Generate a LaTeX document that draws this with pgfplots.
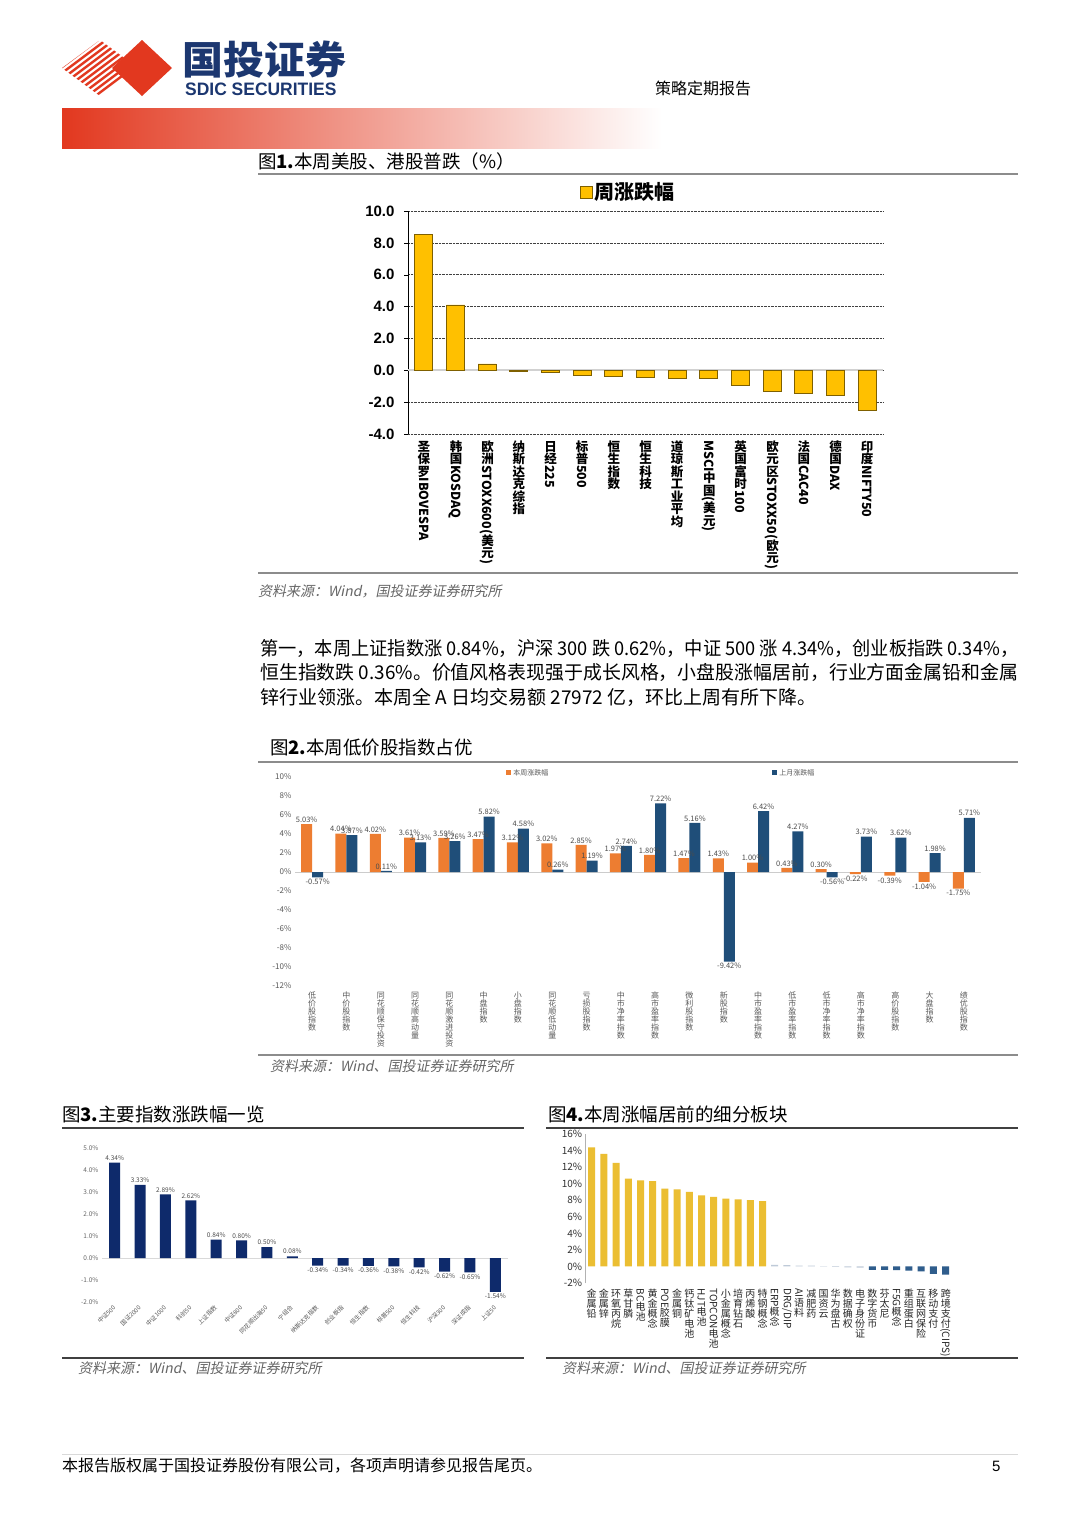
\documentclass[border=0pt]{standalone}
\usepackage{fontspec}
\setmainfont{Noto Sans CJK SC}
\newfontfamily\latfont{Liberation Sans}
\newfontfamily\srcfont[FakeSlant=0.2]{Noto Sans CJK SC}
\usepackage{graphicx}
\usepackage{pgfplots}
\pgfplotsset{compat=1.18}
\pgfplotsset{/pgf/number format/assume math mode=true}

\definecolor{sdicred}{HTML}{E2381F}
\definecolor{sdicnavy}{HTML}{1C3770}
\definecolor{barY}{HTML}{FFC000}
\definecolor{barYedge}{HTML}{7F6000}
\definecolor{orgB}{HTML}{ED7D31}
\definecolor{navB}{HTML}{1F4E79}
\definecolor{nav3}{HTML}{0E2A6B}
\definecolor{gold4}{HTML}{EBBE32}
\definecolor{pale4}{HTML}{BFCAD8}
\definecolor{blue4}{HTML}{2F5D8C}

% vertical labels: CJK glyphs upright, Latin runs sideways
\makeatletter
\def\cc@end{}
\protected\def\cc#1{\cc@i#1\cc@end}
\def\cc@i#1{\ifx#1\cc@end\else\rotatebox[origin=c]{90}{\raisebox{0pt}[0.88em][0.12em]{#1}}\expandafter\cc@i\fi}
\makeatother

\begin{document}
\begin{tikzpicture}[x=1pt,y=1pt]
\fill[white] (0,0) rectangle (1080,-1527);

% ---- header
\begin{scope}
  \clip (62,-68) -- (100,-40) -- (138,-68) -- (100,-96) -- cycle;
  \foreach \a in {10,18,...,140} \draw[sdicred, line width=2.4pt] (\a,-100) -- (\a+80,-40);
\end{scope}
\fill[sdicred] (112,-68) -- (142,-40) -- (172,-68) -- (142,-96) -- cycle;
\node[anchor=west, inner sep=0, text=sdicnavy, xscale=1.05, font=\bfseries\fontsize{39}{39}\selectfont] at (182,-60) {国投证券};
\node[anchor=west, inner sep=0, text=sdicnavy, xscale=0.97, font=\latfont\bfseries\fontsize{18}{18}\selectfont] at (185,-89) {SDIC SECURITIES};
\node[anchor=west, inner sep=0, font=\fontsize{16}{16}\selectfont] at (655,-88) {策略定期报告};
\shade[left color=sdicred, middle color=sdicred!35, right color=white] (62,-108) rectangle (662,-148);

% ---- figure 1
\node[anchor=west, inner sep=0, font=\fontsize{18.5}{18.5}\selectfont] at (258,-161) {图\textbf{1.}本周美股、港股普跌（\%）};
\draw[black!45, line width=1.5pt] (258,-174) -- (1018,-174);

\begin{axis}[
  at={(408pt,-434pt)}, anchor=south west, scale only axis,
  width=475pt, height=223pt,
  xmin=-0.5, xmax=14.5, ymin=-4, ymax=10,
  ybar, bar width=18pt,
  separate axis lines,
  axis y line*=left, axis x line*=bottom,
  x axis line style={draw=none},
  y axis line style={black, line width=1pt, -},
  ytick={-4,-2,...,10},
  ymajorgrids, grid style={densely dotted, black!75, line width=0.7pt},
  xtick={0,...,14}, xtick style={draw=none},
  ytick style={black}, tick align=outside, major tick length=4pt,
  extra y ticks={0}, extra y tick labels={},
  extra y tick style={grid style={solid, black!18, line width=1.6pt}},
  yticklabel style={xshift=-6pt, font=\latfont\bfseries\fontsize{15}{15}\selectfont,
    /pgf/number format/.cd, fixed, fixed zerofill, precision=1},
  xticklabels={
    {\cc{圣保罗}IBOVESPA},
    {\cc{韩国}KOSDAQ},
    {\cc{欧洲}STOXX600(\cc{美元})},
    {\cc{纳斯达克综指}},
    {\cc{日经}225},
    {\cc{标普}500},
    {\cc{恒生指数}},
    {\cc{恒生科技}},
    {\cc{道琼斯工业平均}},
    {MSCI\cc{中国}(\cc{美元})},
    {\cc{英国富时}100},
    {\cc{欧元区}STOXX50(\cc{欧元})},
    {\cc{法国}CAC40},
    {\cc{德国}DAX},
    {\cc{印度}NIFTY50}},
  xticklabel style={rotate=-90, anchor=west, inner sep=2pt, font=\bfseries\fontsize{12.5}{12.5}\selectfont},
  legend style={at={(0.463,1.085)}, anchor=center, draw=none, fill=none,
    font=\bfseries\fontsize{20}{20}\selectfont},
  legend image code/.code={\draw[#1] (0pt,-6pt) rectangle (12pt,6pt);},
]
\addplot[fill=barY, draw=barYedge, line width=0.8pt] coordinates {
  (0,8.55) (1,4.10) (2,0.40) (3,-0.05) (4,-0.15) (5,-0.33) (6,-0.36)
  (7,-0.45) (8,-0.52) (9,-0.52) (10,-0.92) (11,-1.35) (12,-1.45) (13,-1.60) (14,-2.50)};
\addlegendentry{周涨跌幅}
\end{axis}

\draw[black!45, line width=1.3pt] (258,-573) -- (1018,-573);
\node[anchor=west, inner sep=0, text=black!60, font=\srcfont\fontsize{14}{14}\selectfont] at (258,-591) {资料来源：Wind，国投证券证券研究所};

% ---- paragraph
\node[anchor=west, inner sep=0, font=\fontsize{19}{19}\selectfont] at (260,-648)
  {\resizebox{758pt}{\height}{第一，本周上证指数涨 0.84\%，沪深 300 跌 0.62\%，中证 500 涨 4.34\%，创业板指跌 0.34\%，}};
\node[anchor=west, inner sep=0, font=\fontsize{19}{19}\selectfont] at (260,-672)
  {\resizebox{758pt}{\height}{恒生指数跌 0.36\%。价值风格表现强于成长风格，小盘股涨幅居前，行业方面金属铅和金属}};
\node[anchor=west, inner sep=0, font=\fontsize{19}{19}\selectfont] at (260,-697)
  {锌行业领涨。本周全 A 日均交易额 27972 亿，环比上周有所下降。};

% ---- figure 2
\node[anchor=west, inner sep=0, font=\fontsize{18.5}{18.5}\selectfont] at (270,-748) {图\textbf{2.}本周低价股指数占优};
\draw[black!45, line width=1.5pt] (258,-762) -- (1018,-762);

\begin{axis}[
  at={(295pt,-986pt)}, anchor=south west, scale only axis,
  width=686pt, height=209pt,
  xmin=-0.5, xmax=19.5, ymin=-12, ymax=10,
  ytick={-12,-10,...,10},
  axis line style={draw=none}, tick style={draw=none},
  ybar, bar width=11pt,
  yticklabel={\pgfmathprintnumber{\tick}\%},
  yticklabel style={font=\fontsize{8}{8}\selectfont, text=black!65},
  extra y ticks={0}, extra y tick labels={},
  extra y tick style={grid=major, grid style={black!20, line width=0.8pt}},
  xtick={0,...,19},
  xticklabels={
    {\cc{低价股指数}}, {\cc{中价股指数}}, {\cc{同花顺保守投资}}, {\cc{同花顺高动量}},
    {\cc{同花顺激进投资}}, {\cc{中盘指数}}, {\cc{小盘指数}}, {\cc{同花顺低动量}},
    {\cc{亏损股指数}}, {\cc{中市净率指数}}, {\cc{高市盈率指数}}, {\cc{微利股指数}},
    {\cc{新股指数}}, {\cc{中市盈率指数}}, {\cc{低市盈率指数}}, {\cc{低市净率指数}},
    {\cc{高市净率指数}}, {\cc{高价股指数}}, {\cc{大盘指数}}, {\cc{绩优股指数}}},
  xticklabel style={rotate=-90, anchor=west, inner sep=1pt, yshift=0pt,
    font=\fontsize{8}{8}\selectfont, text=black!65},
  nodes near coords={\pgfmathprintnumber[fixed,fixed zerofill,precision=2]{\pgfplotspointmeta}\%},
  nodes near coords align=vertical,
  every node near coord/.append style={font=\fontsize{7.5}{7.5}\selectfont, text=black!70, inner sep=1.5pt},
  legend columns=2,
  legend style={at={(0.534,1.02)}, anchor=center, draw=none, fill=none,
    font=\fontsize{7}{7}\selectfont, text=black!65,
    /tikz/every even column/.append style={column sep=222pt}},
  legend image code/.code={\fill[#1] (0pt,-2.5pt) rectangle (5pt,2.5pt);},
]
\addplot[fill=orgB, draw=none, bar shift=-5.5pt] coordinates {
  (0,5.03) (1,4.04) (2,4.02) (3,3.61) (4,3.59) (5,3.47) (6,3.12) (7,3.02)
  (8,2.85) (9,1.97) (10,1.80) (11,1.47) (12,1.43) (13,1.00) (14,0.43)
  (15,0.30) (16,-0.22) (17,-0.39) (18,-1.04) (19,-1.75)};
\addlegendentry{本周涨跌幅}
\addplot[fill=navB, draw=none, bar shift=5.5pt] coordinates {
  (0,-0.57) (1,3.87) (2,0.11) (3,3.13) (4,3.26) (5,5.82) (6,4.58) (7,0.26)
  (8,1.19) (9,2.74) (10,7.22) (11,5.16) (12,-9.42) (13,6.42) (14,4.27)
  (15,-0.56) (16,3.73) (17,3.62) (18,1.98) (19,5.71)};
\addlegendentry{上月涨跌幅}
\end{axis}

\draw[black!45, line width=1.3pt] (258,-1055) -- (1018,-1055);
\node[anchor=west, inner sep=0, text=black!60, font=\srcfont\fontsize{14}{14}\selectfont] at (270,-1066) {资料来源：Wind、国投证券证券研究所};

% ---- figure 3
\node[anchor=west, inner sep=0, font=\fontsize{18.5}{18.5}\selectfont] at (62,-1114) {图\textbf{3.}主要指数涨跌幅一览};
\draw[black!75, line width=2pt] (62,-1128) -- (524,-1128);

\begin{axis}[
  at={(102pt,-1302pt)}, anchor=south west, scale only axis,
  width=406pt, height=154pt,
  xmin=-0.5, xmax=15.5, ymin=-2, ymax=5,
  ytick={-2,...,5},
  axis line style={draw=none}, tick style={draw=none},
  ybar, bar width=11pt,
  yticklabel={\pgfmathprintnumber[fixed,fixed zerofill,precision=1]{\tick}\%},
  yticklabel style={font=\fontsize{6.5}{6.5}\selectfont, text=black!60},
  extra y ticks={0}, extra y tick labels={},
  extra y tick style={grid=major, grid style={black!15, line width=0.8pt}},
  xtick={0,...,15},
  xticklabels={中证500, 国证2000, 中证1000, 科创50, 上证指数, 中证800, 同花顺出海50, 宁组合,
    纳斯达克指数, 创业板指, 恒生指数, 标普500, 恒生科技, 沪深300, 深证成指, 上证50},
  xticklabel style={rotate=45, anchor=east, inner sep=0.5pt, font=\fontsize{6}{6}\selectfont, text=black!65},
  nodes near coords={\pgfmathprintnumber[fixed,fixed zerofill,precision=2]{\pgfplotspointmeta}\%},
  nodes near coords align=vertical,
  every node near coord/.append style={font=\fontsize{6.5}{6.5}\selectfont, text=black!70, inner sep=2pt},
]
\addplot[fill=nav3, draw=none] coordinates {
  (0,4.34) (1,3.33) (2,2.89) (3,2.62) (4,0.84) (5,0.80) (6,0.50) (7,0.08)
  (8,-0.34) (9,-0.34) (10,-0.36) (11,-0.38) (12,-0.42) (13,-0.62) (14,-0.65) (15,-1.54)};
\end{axis}

\draw[black!75, line width=2pt] (62,-1358) -- (524,-1358);
\node[anchor=west, inner sep=0, text=black!60, font=\srcfont\fontsize{14}{14}\selectfont] at (78,-1368) {资料来源：Wind、国投证券证券研究所};

% ---- figure 4
\node[anchor=west, inner sep=0, font=\fontsize{18.5}{18.5}\selectfont] at (548,-1114) {图\textbf{4.}本周涨幅居前的细分板块};
\draw[black!75, line width=2pt] (546,-1128) -- (1018,-1128);

\begin{axis}[
  at={(585.6pt,-1283pt)}, anchor=south west, scale only axis,
  width=366pt, height=149pt,
  xmin=-0.5, xmax=29.5, ymin=-2, ymax=16,
  ytick={-2,0,...,16},
  separate axis lines,
  axis y line*=left, axis x line*=bottom,
  x axis line style={draw=none},
  y axis line style={black!30, line width=0.8pt, -},
  tick style={draw=none},
  ybar, bar width=7pt,
  yticklabel={\pgfmathprintnumber{\tick}\%},
  yticklabel style={font=\fontsize{10}{10}\selectfont, text=black!80},
  xtick={0,...,29},
  xticklabels={
    {\cc{金属铅}}, {\cc{金属锌}}, {\cc{环氧丙烷}}, {\cc{草甘膦}}, {BC\cc{电池}},
    {\cc{黄金概念}}, {POE\cc{胶膜}}, {\cc{金属铜}}, {\cc{钙钛矿电池}}, {HJT\cc{电池}},
    {TOPCON\cc{电池}}, {\cc{小金属概念}}, {\cc{培育钻石}}, {\cc{丙烯酸}}, {\cc{特钢概念}},
    {ERP\cc{概念}}, {DRG/DIP}, {AI\cc{语料}}, {\cc{减肥药}}, {\cc{国资云}},
    {\cc{华为盘古}}, {\cc{数据确权}}, {\cc{电子身份证}}, {\cc{数字货币}}, {\cc{芬太尼}},
    {F5G\cc{概念}}, {\cc{重组蛋白}}, {\cc{互联网保险}}, {\cc{移动支付}}, {\cc{跨境支付}(CIPS)}},
  xticklabel style={rotate=-90, anchor=west, inner sep=1pt, font=\fontsize{10}{10}\selectfont, text=black!85},
]
\addplot[fill=gold4, draw=none, bar shift=0pt] coordinates {
  (0,14.4) (1,13.6) (2,12.5) (3,10.6) (4,10.4) (5,10.3) (6,9.4) (7,9.3)
  (8,9.0) (9,8.6) (10,8.4) (11,8.2) (12,8.1) (13,8.0) (14,7.9)};
\addplot[fill=pale4, draw=none, bar shift=0pt] coordinates {
  (15,0.20) (16,0.15) (17,0.10) (18,0.10) (19,0.05) (20,-0.05) (21,-0.10) (22,-0.15)};
\addplot[fill=blue4, draw=none, bar shift=0pt] coordinates {
  (23,-0.40) (24,-0.40) (25,-0.45) (26,-0.50) (27,-0.60) (28,-0.90) (29,-1.00)};
\end{axis}

\draw[black!75, line width=2pt] (546,-1358) -- (1018,-1358);
\node[anchor=west, inner sep=0, text=black!60, font=\srcfont\fontsize{14}{14}\selectfont] at (562,-1368) {资料来源：Wind、国投证券证券研究所};

% ---- footer
\draw[black!15, line width=1pt] (62,-1454) -- (1018,-1454);
\node[anchor=west, inner sep=0, font=\fontsize{16}{16}\selectfont] at (62,-1466) {本报告版权属于国投证券股份有限公司，各项声明请参见报告尾页。};
\node[anchor=west, inner sep=0, font=\latfont\fontsize{15}{15}\selectfont] at (992,-1466) {5};
\end{tikzpicture}
\end{document}
